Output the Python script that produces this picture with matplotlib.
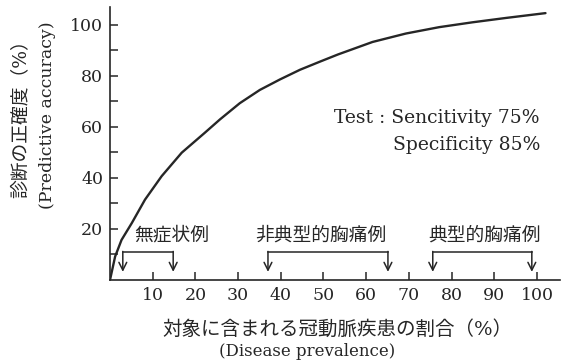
import matplotlib.pyplot as plt

# Datos
prevalencia = [0, 1.2, 2.7, 5.1, 8.2, 12.1, 16.8, 22.2, 25.8, 30.4, 35.1, 39.8,
               44.5, 49.2, 53.4, 61.5, 69.3, 77.1, 84.9, 92.7, 102.0]
exactitud = [0, 9.2, 15.7, 22.3, 31.5, 40.7, 49.9, 57.7, 63.0, 69.3, 74.5, 78.6,
             82.4, 85.6, 88.4, 93.3, 96.6, 99.1, 101.0, 102.7, 104.6]

x_ticks = [10, 20, 30, 40, 50, 60, 70, 80, 90, 100]
y_ticks = [20, 40, 60, 80, 100]
y_minor = [10, 30, 50, 70, 90]

grupos = ['無症状例', '非典型的胸痛例', '典型的胸痛例']
grupo_izq = [3.0, 37.0, 75.6]
grupo_der = [14.8, 65.1, 98.8]
grupo_centro = [14.5, 49.4, 87.8]

W, H = 570, 362
tinta = '#262626'
plt.rcParams['font.family'] = ['DejaVu Serif', 'Noto Sans CJK JP']

fig = plt.figure(figsize=(W / 100, H / 100), dpi=100)
ax = fig.add_axes([110 / W, 82 / H, 450 / W, 273 / H])

ax.plot(prevalencia, exactitud, color=tinta, lw=1.7, solid_capstyle='round',
        solid_joinstyle='round')

ax.set_xlim(0, 105.4)
ax.set_ylim(0, 107)
for lado in ['top', 'right']:
    ax.spines[lado].set_visible(False)
for lado in ['left', 'bottom']:
    ax.spines[lado].set_color(tinta)
    ax.spines[lado].set_linewidth(1.2)

ax.set_xticks(x_ticks)
ax.set_yticks(y_ticks)
ax.set_yticks(y_minor, minor=True)
ax.tick_params(axis='both', which='both', direction='in', length=6, width=1.1,
               colors=tinta, labelsize=12.5, pad=5)

# Corchetes con flechas
for nombre, x1, x2, xc in zip(grupos, grupo_izq, grupo_der, grupo_centro):
    ax.plot([x1, x2], [10.8, 10.8], color=tinta, lw=1.1)
    for xa in [x1, x2]:
        ax.annotate('', xy=(xa, 3.2), xytext=(xa, 11.2),
                    arrowprops=dict(arrowstyle='->', color=tinta, lw=1.1,
                                    mutation_scale=14, shrinkA=0, shrinkB=0))
    ax.text(xc, 17.5, nombre, ha='center', va='center', fontsize=13.5,
            color=tinta, family='Noto Sans CJK JP')

fig.text(540 / W, 1 - 118 / H, 'Test : Sencitivity 75%', fontsize=13.5,
         ha='right', va='center', color=tinta)
fig.text(540 / W, 1 - 145 / H, 'Specificity 85%', fontsize=13.5,
         ha='right', va='center', color=tinta)

# Etiquetas de los ejes
fig.text(20 / W, 1 - 114 / H, '診断の正確度（%）', rotation=90, fontsize=13.5,
         ha='center', va='center', color=tinta)
fig.text(47 / W, 1 - 115 / H, '(Predictive accuracy)', rotation=90, fontsize=12.5,
         ha='center', va='center', color=tinta)
fig.text(337 / W, 1 - 329 / H, '対象に含まれる冠動脈疾患の割合（%）', fontsize=14,
         ha='center', va='center', color=tinta)
fig.text(307 / W, 1 - 352 / H, '(Disease prevalence)', fontsize=12,
         ha='center', va='center', color=tinta)

fig.savefig('out.png', dpi=100, facecolor='white')
